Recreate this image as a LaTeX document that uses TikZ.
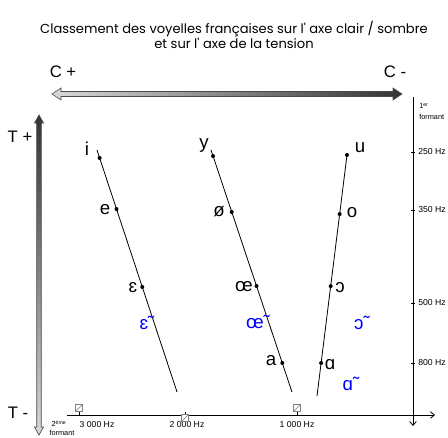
\documentclass[tikz,border=0pt]{standalone}
\usepackage{fontspec}
\setmainfont{Liberation Sans}
\newfontfamily\titlefont{Poppins}
\usepackage{tikz}
\usetikzlibrary{arrows.meta,positioning,calc}

\begin{document}
\begin{tikzpicture}[x=0.75pt, y=-0.75pt,
  titletext/.style={font=\titlefont\fontsize{9.8}{11.25}\selectfont, align=center, inner sep=0pt},
  pole/.style ={font=\fontsize{12.5}{14}\selectfont, inner sep=0pt},
  vowel/.style={font=\fontsize{14}{16}\selectfont, inner sep=0pt},
  nasal/.style={vowel, text=blue},
  dot/.style  ={circle, fill=black, inner sep=0pt, minimum size=3pt},
  hz/.style   ={font=\fontsize{6.5}{8}\selectfont, inner sep=0pt},
  small/.style={font=\fontsize{5.5}{6}\selectfont, inner sep=0pt},
  icon/.style ={rectangle, draw=gray, fill=white, inner sep=0pt, minimum size=5pt,
                path picture={\draw[gray, line width=0.3pt]
                  (path picture bounding box.south west) -- (path picture bounding box.north east);}},
  vline/.style={line width=0.6pt},
  axis/.style ={line width=0.6pt, -{Straight Barb[length=3pt, width=5pt]}},
  bigarrow/.style={draw=black!70, line width=0.5pt},
]
\useasboundingbox (0,0) rectangle (448,437);

% === Title ===
\node[titletext] (title) at (234,34.5)
  {Classement des voyelles françaises sur l' axe clair / sombre\\et sur l' axe de la tension};

% === Clair / sombre axis ===
\node[pole] (cplus)  at (63,72)  {C +};
\node[pole] (cminus) at (395,72) {C -};
\shade[bigarrow, left color=gray!30, right color=black!80]
  (52,94) -- (61,88) -- (61,91.5) -- (393,91.5) -- (393,88) -- (402,94)
  -- (393,100) -- (393,96.5) -- (61,96.5) -- (61,100) -- cycle;

% === Tension axis ===
\node[pole] (tplus)  at (20,137) {T +};
\node[pole] (tminus) at (18,413) {T -};
\shade[bigarrow, top color=black!80, bottom color=gray!30]
  (39,115) -- (43.5,123) -- (41.3,123) -- (41.3,427) -- (43.5,427) -- (39,435)
  -- (34.5,427) -- (36.7,427) -- (36.7,123) -- (34.5,123) -- cycle;

% === 1st formant ===
\coordinate (f1top) at (413,97);
\coordinate (f1bot) at (413,426);
\draw[axis] (f1top) -- (f1bot);
\node[small, anchor=west] (f1a) at (419,106) {1\textsuperscript{er}};
\node[small, anchor=west] (f1b) at (419,117) {formant};
\foreach \y/\f in {152/250, 210/350, 303/500, 363/800} {
  \draw[line width=0.6pt] (411,\y) -- (415,\y);
  \node[hz, anchor=west] (f1-\f) at (418,\y) {\f~Hz};
}

% === 2nd formant ===
\coordinate (f2left)  at (67,415);
\coordinate (f2right) at (435,415);
\draw[axis] (f2left) -- (f2right);
\node[small] (f2a) at (59,423.5) {2\textsuperscript{ème}};
\node[small] (f2b) at (62,432.5) {formant};
\foreach \x/\f/\l in {79/3/97, 185/2/187, 297/1/297} {
  \draw[line width=0.4pt] (\x,412) -- (\x,415);
  \node[hz] (f2-\f) at (\l,425) {\f~000~Hz};
}
\node[icon] (img3) at (79,408)  {};
\node[icon] (img2) at (185,418) {};
\node[icon] (img1) at (297,408) {};

% === Front unrounded ===
\coordinate (aS) at (97,150);
\coordinate (aE) at (177,392);
\draw[vline] (aS) -- (aE)
  node[dot, pos=0.033] (dI) {}
  node[dot, pos=0.244] (dE) {}
  node[dot, pos=0.566] (dEps) {};
\node[vowel] (vI)   at (87,149)  {i};
\node[vowel] (vE)   at (105,210) {e};
\node[vowel] (vEps) at (133,288) {ɛ};
\node[nasal] (nEps) at (147,323) {ɛ˜};

% === Front rounded ===
\coordinate (bS) at (211,150);
\coordinate (bE) at (292,392);
\draw[vline] (bS) -- (bE)
  node[dot, pos=0.025] (dY)  {}
  node[dot, pos=0.256] (dOe) {}
  node[dot, pos=0.562] (dOE) {}
  node[dot, pos=0.880] (dA)  {};
\node[vowel] (vY)  at (204,145) {y};
\node[vowel] (vOe) at (219,212) {ø};
\node[vowel] (vOE) at (244,287) {œ};
\node[nasal] (nOE) at (258,322) {œ˜};
\node[vowel] (vA)  at (271,361) {a};

% === Back ===
\coordinate (cS) at (347,155);
\coordinate (cE) at (317,396);
\draw[vline] (cS) -- (cE)
  node[dot, pos=0]     (dU)  {}
  node[dot, pos=0.245] (dO)  {}
  node[dot, pos=0.544] (dOO) {}
  node[dot, pos=0.863] (dAA) {};
\node[vowel] (vU)  at (360,148) {u};
\node[vowel] (vO)  at (352,213) {o};
\node[vowel] (vOO) at (340,288) {ɔ};
\node[vowel] (vAA) at (330,365) {ɑ};
\node[nasal] (nOO) at (362,323) {ɔ˜};
\node[nasal] (nAA) at (351,384) {ɑ˜};

\end{tikzpicture}
\end{document}
